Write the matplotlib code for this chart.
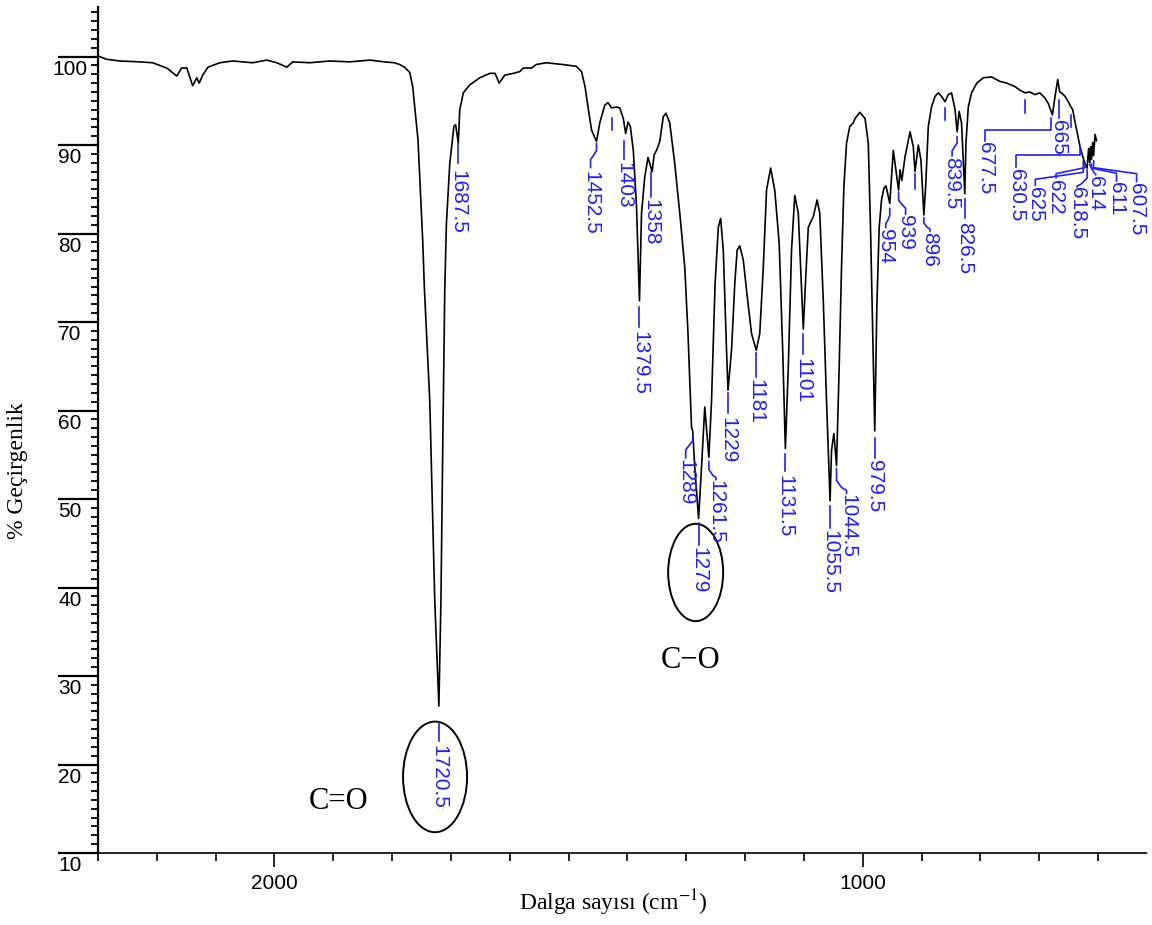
import numpy as np
import matplotlib
matplotlib.use("Agg")
import matplotlib.pyplot as plt
from matplotlib.lines import Line2D
from matplotlib.patches import Ellipse
from matplotlib.ticker import MultipleLocator, FixedLocator
from matplotlib.transforms import IdentityTransform, offset_copy


# IR spectrum (cm-1, % transmittance)
wavenumber = [
    2300, 2297, 2286, 2263, 2229, 2207, 2183, 2166, 2158, 2149, 2139, 2132, 2128, 2122, 2113,
    2093, 2071, 2037, 2013, 1996, 1979, 1969, 1940, 1906, 1872, 1838, 1813, 1796, 1787, 1779,
    1770, 1765, 1756, 1748, 1745, 1736, 1727.5, 1720.5, 1717, 1714, 1710.5, 1707.7, 1702, 1695,
    1692, 1687.5, 1685, 1679, 1668, 1651, 1634, 1625, 1618, 1608.5, 1594, 1583, 1577, 1563,
    1555, 1538, 1510, 1487, 1478, 1472, 1467, 1461, 1452.5, 1447, 1438.5, 1433, 1427, 1418.5,
    1413, 1407, 1403, 1399, 1395, 1390, 1384.5, 1379.5, 1376, 1370.5, 1365, 1358, 1354.5,
    1350.5, 1345, 1339, 1334.5, 1328, 1319.5, 1311, 1302.5, 1297, 1291, 1289, 1285.5, 1279,
    1274, 1268.5, 1261.5, 1257, 1251, 1245.5, 1241.5, 1237, 1231.5, 1229, 1223, 1217.5, 1213.5,
    1209, 1203, 1197.5, 1189, 1181, 1175, 1169, 1163.5, 1156.5, 1149.5, 1142, 1136, 1131.5,
    1126.5, 1121, 1115.5, 1109.5, 1105.5, 1101, 1096.5, 1092.5, 1088.5, 1084, 1077.5, 1073,
    1067, 1061.5, 1055.5, 1053, 1049, 1044.5, 1040, 1036, 1032, 1027.5, 1022, 1016, 1013, 1005,
    996, 990.5, 986.5, 983, 979.5, 976, 972, 968, 964, 960.5, 954, 948, 939, 936.5, 933.5, 928,
    919.5, 914, 911, 905.5, 901, 896, 893, 888.5, 883, 877, 871.5, 866, 860, 854.5, 849, 843,
    839.5, 836, 832, 826.5, 824.5, 820.5, 815, 806, 795, 781, 767, 755, 741, 733, 724, 716, 707,
    699, 690, 684.5, 677.5, 673, 668.5, 665, 662, 656, 650.5, 646, 643, 639, 635, 630.5, 625,
    622, 618.5, 616, 614, 612.5, 611, 609, 607.5, 605, 602.5,
]
transmittance = [
    100.0, 100.0, 99.7, 99.5, 99.4, 99.3, 98.7, 97.8, 98.7, 98.7, 96.7, 97.6, 97.0, 97.9, 98.8,
    99.3, 99.5, 99.3, 99.6, 99.3, 98.8, 99.4, 99.3, 99.5, 99.4, 99.6, 99.4, 99.3, 99.1, 98.8,
    98.2, 96.6, 90.6, 79.2, 73.6, 61.1, 38.5, 26.6, 38.5, 55.5, 73.6, 81.1, 87.9, 92.1,
    92.3, 90.2, 94.0, 95.9, 96.8, 97.6, 98.1, 98.1, 97.0, 97.9, 98.1, 98.3, 98.7, 98.7,
    99.1, 99.3, 99.1, 98.9, 98.3, 96.6, 94.3, 91.7, 90.4, 92.5, 94.5, 94.8, 94.2, 94.3,
    94.2, 93.0, 91.3, 92.6, 92.1, 89.4, 83.0, 72.4, 82.3, 86.4, 88.6, 87.0, 88.9,
    89.4, 90.4, 93.2, 93.6, 92.5, 87.9, 82.3, 76.2, 68.7, 58.1, 57.7, 53.6, 47.8,
    53.6, 60.4, 54.7, 61.1, 74.3, 80.7, 81.7, 78.1, 66.8, 62.3, 66.8, 74.3, 78.1,
    78.6, 77.0, 73.6, 68.7, 66.8, 68.7, 76.2, 84.9, 87.4, 84.9, 78.9, 66.8, 55.7,
    64.9, 78.1, 84.3, 82.3, 76.2, 69.2, 75.5, 80.7, 81.3, 81.9, 83.8, 82.3,
    72.4, 61.1, 49.8, 55.5, 57.4, 53.8, 64.9, 76.2, 85.3, 90.2, 92.1, 92.5, 93.0, 93.7,
    93.0, 90.2, 80.0, 68.7, 57.7, 71.7, 80.7, 83.8, 85.1, 85.4, 83.4, 89.4, 84.9, 87.2, 86.0, 88.7,
    91.5, 89.8, 87.0, 90.0, 88.3, 82.1, 85.3, 92.1, 94.3, 95.5, 95.9, 95.5, 94.9, 95.7, 95.9, 94.0,
    91.5, 93.8, 92.5, 84.5, 90.2, 94.3, 95.9, 97.0, 97.6, 97.7, 97.2, 97.0, 96.6, 96.2, 95.9, 96.0, 95.7,
    95.9, 95.3, 94.7, 93.4, 95.5, 97.4, 96.0, 95.9, 95.5, 94.9, 94.3, 94.0, 92.6, 91.3, 89.8, 88.5,
    87.9, 87.4, 89.6, 88.0, 89.8, 88.4, 90.3, 88.8, 91.2, 90.5,
]

# labelled band positions (cm-1)
peak_labels = ["1720.5", "1687.5", "1452.5", "1403", "1379.5", "1358", "1289", "1279",
               "1261.5", "1229", "1181", "1131.5", "1101", "1055.5", "1044.5", "979.5",
               "954", "939", "896", "839.5", "826.5", "677.5", "665", "630.5", "625",
               "622", "618.5", "614", "611", "607.5"]
# bands marked with a bare tick only
marked_bands = [1427, 911, 860, 724, 646]

group_labels = ["C=O", "C\u2212O"]

# leader paths (pixel offsets from the band minimum, y down) and text anchor
leaders = {
    "1720.5": ([(0, 17), (0, 35)], (0, 39)),
    "1687.5": ([(0, 1), (0, 20)], (0, 27)),
    "1452.5": ([(0, 2), (0, 9), (-3, 14), (-6, 18), (-6, 26)], (-6, 29)),
    "1403": ([(-2, 7), (-2, 25)], (-2, 28)),
    "1379.5": ([(0, 6), (0, 26)], (0, 30)),
    "1358": ([(-1, 0), (-1, 25)], (-1, 27)),
    "1289": ([(0, 5), (0, 10), (-4, 15), (-7, 19), (-7, 27)], (-7, 28)),
    "1279": ([(0, 5), (0, 27)], (0, 29)),
    "1261.5": ([(0, 4), (0, 12), (4, 18), (7, 20), (7, 22)], (7, 23)),
    "1229": ([(0, 3), (0, 23)], (0, 27)),
    "1181": ([(0, 3), (0, 27)], (0, 29)),
    "1131.5": ([(0, 5), (0, 22)], (0, 26)),
    "1101": ([(0, 5), (0, 25)], (0, 29)),
    "1055.5": ([(0, 5), (0, 27)], (0, 29)),
    "1044.5": ([(0, 3), (0, 15), (5, 22), (10, 25), (10, 28)], (11, 29)),
    "979.5": ([(0, 7), (0, 27)], (0, 29)),
    "954": ([(0, 5), (0, 12), (-2, 17), (-4, 20), (-4, 24)], (-4, 26)),
    "939": ([(0, 2), (0, 10), (4, 15), (7, 18), (7, 24)], (7, 25)),
    "896": ([(0, 3), (0, 8), (3, 12), (6, 14), (6, 16)], (6, 17)),
    "839.5": ([(0, 5), (0, 11), (-3, 16), (-5, 19), (-5, 24)], (-5, 25)),
    "826.5": ([(0, 5), (0, 24)], (0, 28)),
    "677.5": ([(-1, 3), (-1, 15), (-67, 15), (-67, 26)], (-67, 27)),
    "665": ([(-1, 8), (-1, 26)], (-1, 28)),
    "630.5": ([(0, 0), (0, 8), (-64, 8), (-64, 20)], (-64, 22)),
    "625": ([(0, 3), (0, 14), (-48, 21), (-48, 27)], (-48, 29)),
    "622": ([(0, 1), (0, 4), (-29, 10), (-29, 14)], (-30, 16)),
    "618.5": ([(0, 2), (0, 10), (-6, 16), (-10, 18), (-10, 19)], (-10, 19)),
    "614": ([(0, 2), (3, 8), (6, 12)], (6, 13)),
    "611": ([(0, 5), (0, 9), (25, 14), (25, 22)], (25, 23)),
    "607.5": ([(0, 5), (0, 12), (43, 18), (43, 26)], (43, 27)),
}
mark_offsets = {1427: (10, 22), 911: (2, 17), 860: (6, 18), 724: (7, 20), 646: (8, 20)}

BLUE = "#1f1fff"
TICK_FONT = "Liberation Sans"
plt.rcParams["mathtext.fontset"] = "stix"

W, H = 1152, 925
fig = plt.figure(figsize=(W / 100, H / 100), dpi=100)
ax = fig.add_axes([98 / W, 1 - 853 / H, (1147 - 98) / W, (853 - 7) / H])

ax.plot(wavenumber, transmittance, color="black", lw=1.2)
ax.set_xlim(2300, 516.7)
ax.set_ylim(10, 105.6)

ax.xaxis.set_major_locator(FixedLocator([2000, 1000]))
ax.xaxis.set_minor_locator(MultipleLocator(100))
ax.yaxis.set_major_locator(MultipleLocator(10))
ax.yaxis.set_minor_locator(MultipleLocator(1))
ax.tick_params(axis="y", which="major", length=29, width=1.6, labelleft=False)
ax.tick_params(axis="y", which="minor", length=5, width=1.3)
ax.tick_params(axis="x", which="major", length=10, width=1.2, pad=5)
ax.tick_params(axis="x", which="minor", length=6, width=1.2)
for lab in ax.get_xticklabels():
    lab.set_fontfamily(TICK_FONT)
    lab.set_fontsize(15)

ax.spines["top"].set_visible(False)
ax.spines["right"].set_visible(False)
ax.spines["left"].set_linewidth(1.6)
ax.spines["bottom"].set_linewidth(1.2)
ax.spines["bottom"].set_linestyle((0, (1.5, 1)))

ytrans = offset_copy(ax.get_yaxis_transform(), fig=fig, x=-28, y=-3, units="dots")
for v in range(10, 101, 10):
    ax.text(0, v, str(v), transform=ytrans, ha="center", va="top",
            fontfamily=TICK_FONT, fontsize=15)

# peak labels
wn_inc = np.array(wavenumber[::-1])
tr_inc = np.array(transmittance[::-1])
ident = IdentityTransform()
for label in peak_labels:
    w = float(label)
    x0, y0 = ax.transData.transform((w, np.interp(w, wn_inc, tr_inc)))
    path, (tx, ty) = leaders[label]
    ax.add_line(Line2D([x0 + dx for dx, dy in path], [y0 - dy for dx, dy in path],
                       transform=ident, color=BLUE, lw=1.2))
    ax.text(x0 + tx, y0 - ty, label, transform=ident, rotation=-90, ha="center", va="top",
            color=BLUE, fontfamily="Liberation Sans", fontsize=15)

for w in marked_bands:
    x0, y0 = ax.transData.transform((w, np.interp(w, wn_inc, tr_inc)))
    a, b = mark_offsets[w]
    ax.add_line(Line2D([x0, x0], [y0 - a, y0 - b], transform=ident, color=BLUE, lw=1.2))

# circled bands and group names
ax.add_patch(Ellipse((1727, 18.6), 108.8, 12.5, fill=False, ec="black", lw=1.4))
ax.add_patch(Ellipse((1284, 41.7), 93.5, 11.0, fill=False, ec="black", lw=1.4))
ax.text(1891, 15.8, group_labels[0], ha="center", va="center",
        fontfamily="Liberation Serif", fontsize=22)
ax.text(1292, 31.7, group_labels[1], ha="center", va="center",
        fontfamily="Liberation Serif", fontsize=22)

fig.text(613 / W, 1 - 903 / H, "Dalga say\u0131s\u0131 (cm$^{-1}$)", ha="center", va="center",
         fontfamily="Liberation Serif", fontsize=17)
fig.text(18 / W, 1 - 471 / H, "% Ge\u00e7irgenlik", rotation=90, ha="center", va="center",
         fontfamily="Liberation Serif", fontsize=17)

fig.savefig("out.png", dpi=100)
